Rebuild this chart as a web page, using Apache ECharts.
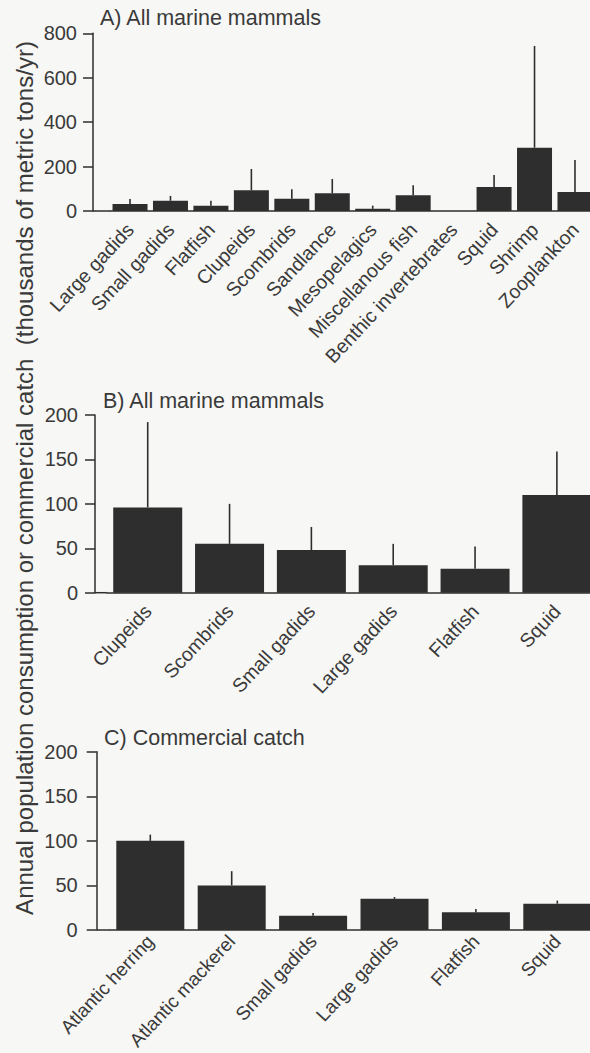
<!DOCTYPE html>
<html>
<head>
<meta charset="utf-8">
<script src="https://cdn.jsdelivr.net/npm/echarts@6/dist/echarts.min.js"></script>
<style>
  html, body { margin: 0; padding: 0; background: #f7f7f5; }
  #chart { width: 590px; height: 1053px; }
</style>
</head>
<body>
<div id="chart"></div>
<script>
// Panel A: consumption by all marine mammals, all prey groups
const preyGroupsA = ['Large gadids', 'Small gadids', 'Flatfish', 'Clupeids', 'Scombrids', 'Sandlance',
  'Mesopelagics', 'Miscellanous fish', 'Benthic invertebrates', 'Squid', 'Shrimp', 'Zooplankton'];
const consumptionA = [31, 46, 24, 93, 55, 80, 10, 71, 0, 108, 285, 86];
const upperA = [54, 68, 46, 189, 98, 144, 24, 116, 0, 162, 743, 230];

// Panel B: consumption of commercially important prey
const preyGroupsB = ['Clupeids', 'Scombrids', 'Small gadids', 'Large gadids', 'Flatfish', 'Squid'];
const consumptionB = [96, 55, 48, 31, 27, 110];
const upperB = [192, 100, 74, 55, 52, 159];

// Panel C: commercial catch
const catchGroupsC = ['Atlantic herring', 'Atlantic mackerel', 'Small gadids', 'Large gadids', 'Flatfish', 'Squid'];
const catchC = [100, 50, 16, 35, 20, 29.5];
const upperC = [107, 66, 19, 37, 23.5, 33];

const titles = ['A) All marine mammals', 'B) All marine mammals', 'C) Commercial catch'];
const yMax = [800, 200, 200];
const yStep = [200, 50, 50];
const yName = 'Annual population consumption or commercial catch  (thousands of metric tons/yr)';

const FONT = '"Liberation Sans", Arial, Helvetica, sans-serif';
const INK = '#2e2e2e';
const TEXT = '#3a3a3a';

// layout of the three stacked panels (pixels)
const layout = [
  { axisX: 93,   left: 109.8, width: 485.4, top: 33.3,  height: 177.7, barW: 35, labelMargin: 16,
    catMargin: 15, catFont: 19.5, titleX: 100, titleY: 7 },
  { axisX: 95,   left: 106.8, width: 491,   top: 415,   height: 177.7, barW: 69, labelMargin: 17,
    catMargin: 15, catFont: 19.5, titleX: 103, titleY: 390 },
  { axisX: 96.7, left: 109.6, width: 488.4, top: 751.7, height: 178.3, barW: 68, labelMargin: 19,
    catMargin: 8, catFont: 19, titleX: 104, titleY: 727 }
];

const panels = [
  { cats: preyGroupsA, vals: consumptionA, upper: upperA },
  { cats: preyGroupsB, vals: consumptionB, upper: upperB },
  { cats: catchGroupsC, vals: catchC, upper: upperC }
];

const option = {
  backgroundColor: '#f7f7f5',
  animation: false,
  textStyle: { fontFamily: FONT },
  title: panels.map((p, i) => ({
    text: titles[i],
    left: layout[i].titleX,
    top: layout[i].titleY,
    padding: 0,
    textStyle: { fontFamily: FONT, fontSize: 21.5, fontWeight: 'normal', color: TEXT }
  })),
  grid: layout.map(l => ({
    left: l.left, top: l.top, width: l.width, height: l.height,
    containLabel: false, outerBoundsMode: 'none'
  })),
  xAxis: panels.map((p, i) => ({
    type: 'category',
    gridIndex: i,
    data: p.cats,
    axisLine: { lineStyle: { color: INK, width: 1.5 } },
    axisTick: { alignWithLabel: true, length: 6, lineStyle: { color: INK, width: 1.5 } },
    axisLabel: {
      interval: 0, rotate: 47, margin: layout[i].catMargin, fontSize: layout[i].catFont,
      color: TEXT, fontFamily: FONT
    }
  })),
  yAxis: panels.map((p, i) => ({
    type: 'value',
    gridIndex: i,
    min: 0,
    max: yMax[i],
    interval: yStep[i],
    offset: layout[i].left - layout[i].axisX,
    splitLine: { show: false },
    axisLine: { show: true, lineStyle: { color: INK, width: 1.5 } },
    axisTick: { show: true, length: 10, lineStyle: { color: INK, width: 1.5 } },
    axisLabel: { margin: layout[i].labelMargin, fontSize: 20, color: TEXT, fontFamily: FONT }
  })),
  series: []
};

panels.forEach((p, i) => {
  option.series.push({
    type: 'bar',
    xAxisIndex: i,
    yAxisIndex: i,
    data: p.vals,
    barWidth: layout[i].barW,
    itemStyle: { color: INK },
    z: 2
  });
  option.series.push({
    type: 'custom',
    xAxisIndex: i,
    yAxisIndex: i,
    data: p.vals.map((v, k) => [k, v, p.upper[k]]),
    encode: { x: 0, y: [1, 2] },
    z: 3,
    renderItem: function (params, api) {
      const lo = api.coord([api.value(0), api.value(1)]);
      const hi = api.coord([api.value(0), api.value(2)]);
      return {
        type: 'line',
        shape: { x1: lo[0], y1: lo[1], x2: hi[0], y2: hi[1] },
        style: { stroke: INK, lineWidth: 1.6 }
      };
    }
  });
});

// baseline continues from the offset value axis to the first category band,
// plus the shared rotated axis title
option.graphic = layout.map(l => ({
  type: 'line',
  shape: { x1: l.axisX, y1: l.top + l.height, x2: l.left, y2: l.top + l.height },
  style: { stroke: INK, lineWidth: 1.5 },
  silent: true
})).concat([{
  type: 'text',
  x: 24,
  y: 478,
  rotation: Math.PI / 2,
  style: {
    text: yName,
    fontFamily: FONT,
    fontSize: 24,
    fill: TEXT,
    textAlign: 'center',
    textVerticalAlign: 'middle'
  },
  silent: true
}]);

const chart = echarts.init(document.getElementById('chart'), null, { renderer: 'svg' });
chart.setOption(option);
</script>
</body>
</html>
